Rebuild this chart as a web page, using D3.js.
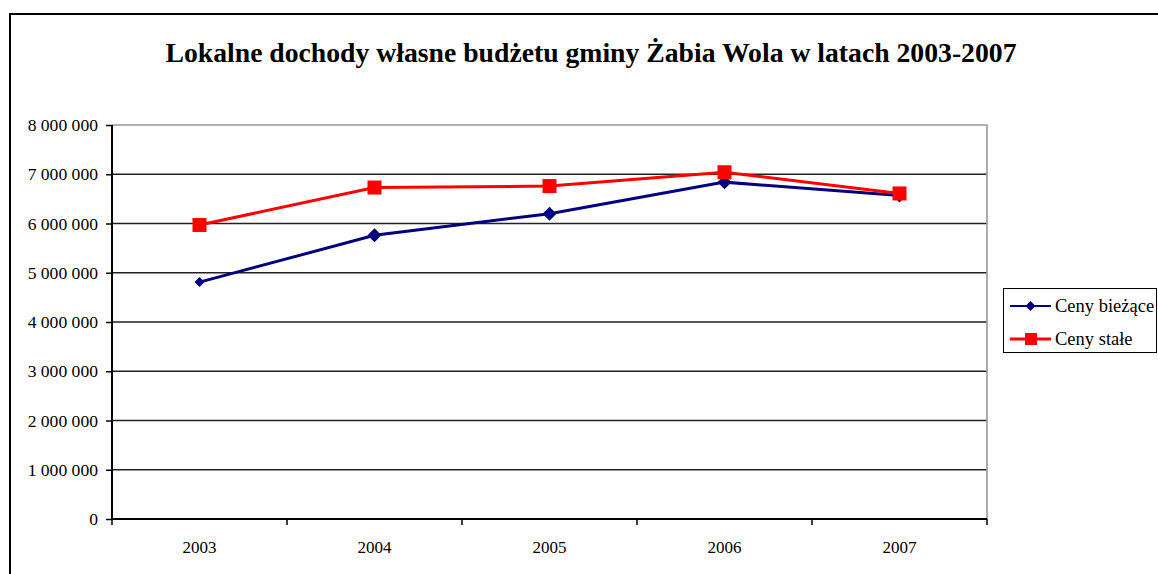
<!DOCTYPE html>
<html><head><meta charset="utf-8">
<script src="https://cdn.jsdelivr.net/npm/d3@7"></script>
<style>body{margin:0;background:#fff}svg{display:block}</style>
</head><body>
<svg id="c" width="1158" height="574"></svg>
<script>
const title = "Lokalne dochody własne budżetu gminy Żabia Wola w latach 2003-2007";
const years = ["2003","2004","2005","2006","2007"];
const cenyBiezace = [4810000, 5760000, 6200000, 6840000, 6570000];
const cenyStale = [5970000, 6730000, 6760000, 7040000, 6610000];
const seriesNames = ["Ceny bieżące","Ceny stałe"];
const yTicks = [0,1000000,2000000,3000000,4000000,5000000,6000000,7000000,8000000];

const svg = d3.select("#c");
const font = "'Liberation Serif','Times New Roman',serif";
const L=112, R=987, T=125, B=519;

// outer frame
svg.append("rect").attr("x",10).attr("y",14).attr("width",1170).attr("height",600)
  .attr("fill","none").attr("stroke","#000").attr("stroke-width",2);

svg.append("text").attr("x",591).attr("y",62).attr("text-anchor","middle")
  .attr("font-family",font).attr("font-weight","bold").attr("font-size",27.7).text(title);

const x = d3.scaleBand().domain(years).range([L,R]);
const y = d3.scaleLinear().domain([0,8000000]).range([B,T]);
const fmt = v => d3.format(",")(v).replace(/,/g," ");

// gridlines
svg.append("g").selectAll("line").data(yTicks.filter(v=>v>0&&v<8000000)).join("line")
  .attr("x1",L).attr("x2",R).attr("y1",d=>y(d)).attr("y2",d=>y(d))
  .attr("stroke","#222").attr("stroke-width",1.6);
// plot border (top, right)
svg.append("path").attr("d",`M${L},${T}H${R}V${B}`).attr("fill","none").attr("stroke","#999").attr("stroke-width",1.6);

// y axis
const ya = svg.append("g").attr("transform",`translate(${L},0)`)
  .call(d3.axisLeft(y).tickValues(yTicks).tickFormat(fmt).tickSize(6).tickPadding(8));
ya.select(".domain").attr("stroke","#000").attr("stroke-width",2).attr("d",`M0,${T}V${B}`);
ya.selectAll(".tick line").attr("stroke","#000").attr("stroke-width",1.5);
ya.selectAll("text").attr("font-family",font).attr("font-size",17.6).attr("fill","#000");

// x axis
const xa = svg.append("g").attr("transform",`translate(0,${B})`)
  .call(d3.axisBottom(x).tickSize(0).tickPadding(22));
xa.select(".domain").attr("stroke","#000").attr("stroke-width",2).attr("d",`M${L},0H${R}`);
xa.selectAll("text").attr("font-family",font).attr("font-size",17).attr("fill","#000");
const bounds = years.map(d=>x(d)).concat([R]);
xa.selectAll(".bt").data(bounds).join("line").attr("class","bt")
  .attr("x1",d=>d).attr("x2",d=>d).attr("y1",0).attr("y2",6).attr("stroke","#000").attr("stroke-width",1.5);

const cx = d => x(d)+x.bandwidth()/2;
const line = d3.line().x((d,i)=>cx(years[i])).y(d=>y(d));

// series 1 navy
svg.append("path").datum(cenyBiezace).attr("d",line).attr("fill","none").attr("stroke","#000080").attr("stroke-width",3);
const diamond = s => `M0,${-s}L${s},0L0,${s}L${-s},0Z`;
svg.append("g").selectAll("path").data(cenyBiezace).join("path")
  .attr("transform",(d,i)=>`translate(${cx(years[i])},${y(d)})`)
  .attr("d",(d,i)=>diamond(i===0?5:7)).attr("fill","#000080");

// series 2 red
svg.append("path").datum(cenyStale).attr("d",line).attr("fill","none").attr("stroke","#ff0000").attr("stroke-width",3);
svg.append("g").selectAll("rect").data(cenyStale).join("rect")
  .attr("x",(d,i)=>cx(years[i])-7).attr("y",d=>y(d)-7).attr("width",14).attr("height",14).attr("fill","#ff0000");

// legend
const lg = svg.append("g");
lg.append("rect").attr("x",1003.5).attr("y",288.5).attr("width",153).attr("height",64)
  .attr("fill","#fff").attr("stroke","#000").attr("stroke-width",1);
const ly = [306, 339];
lg.append("line").attr("x1",1010).attr("x2",1051).attr("y1",ly[0]).attr("y2",ly[0]).attr("stroke","#000080").attr("stroke-width",2);
lg.append("path").attr("transform",`translate(1030.5,${ly[0]})`).attr("d",diamond(5)).attr("fill","#000080");
lg.append("line").attr("x1",1010).attr("x2",1051).attr("y1",ly[1]).attr("y2",ly[1]).attr("stroke","#ff0000").attr("stroke-width",3);
lg.append("rect").attr("x",1025).attr("y",ly[1]-6).attr("width",12).attr("height",12).attr("fill","#ff0000");
lg.selectAll("text.lt").data(seriesNames).join("text").attr("class","lt")
  .attr("x",1055).attr("y",(d,i)=>ly[i]+6).attr("font-family",font).attr("font-size",18.5).text(d=>d);
</script>
</body></html>
